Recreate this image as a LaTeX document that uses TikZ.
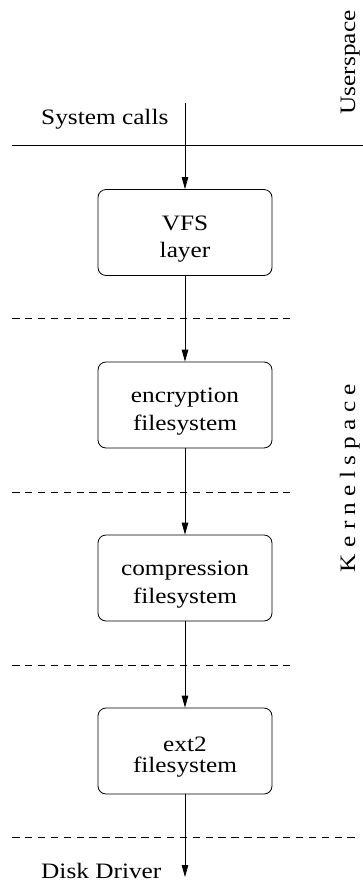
\documentclass[tikz,border=0pt]{standalone}
\usepackage{fontspec}
\setmainfont{Liberation Serif}[FakeStretch=1.15]
\usetikzlibrary{arrows.meta}
\begin{document}
\begin{tikzpicture}[x=1pt,y=-1pt,
  every node/.style={font=\fontsize{22}{27}\selectfont, inner sep=0pt},
  fsbox/.style={draw, line width=0.8pt, rounded corners=8pt, minimum width=174pt, minimum height=86pt, align=center},
  flow/.style={line width=0.8pt, -{Triangle[length=12pt,width=6.5pt]}},
  layer/.style={line width=0.8pt, dash pattern=on 7.5pt off 5.4pt},
  border/.style={line width=0.8pt}]
\useasboundingbox (0,0) rectangle (363,884);
% boxes
\node[fsbox] (vfs) at (185,232.5) {\rule{0pt}{27pt}VFS\\layer};
\node[fsbox] (enc) at (185,405) {\rule{0pt}{27pt}encryption\\[1pt]filesystem};
\node[fsbox] (comp) at (185,578) {\rule{0pt}{27pt}compression\\[1pt]filesystem};
\node[fsbox] (ext) at (185,751) {\rule{0pt}{27pt}ext2\\[-6pt]filesystem};
% labels
\node[anchor=base west] (sys) at (41,124) {System calls};
\node[anchor=base west] (disk) at (41,878) {Disk Driver};
\node[rotate=90, anchor=base] (user) at (355,62.5) {Userspace};
\node[rotate=90, anchor=base] (kern) at (355,478) {K e r n e l s p a c e};
% separators
\coordinate (sl) at (12,145);
\coordinate (sr) at (363,145);
\draw[border] (sl) -- (sr);
\coordinate (d1l) at (12,318); \coordinate (d1r) at (295,318);
\coordinate (d2l) at (12,492); \coordinate (d2r) at (295,492);
\coordinate (d3l) at (12,665); \coordinate (d3r) at (295,665);
\coordinate (d4l) at (12,837); \coordinate (d4r) at (355,837);
\draw[layer] (d1l) -- (d1r);
\draw[layer] (d2l) -- (d2r);
\draw[layer] (d3l) -- (d3r);
\draw[layer] (d4l) -- (d4r);
% flow
\coordinate (top) at (185,103);
\coordinate (bot) at (185,877);
\draw[flow] (top) -- (vfs.north);
\draw[flow] (vfs.south) -- (enc.north);
\draw[flow] (enc.south) -- (comp.north);
\draw[flow] (comp.south) -- (ext.north);
\draw[flow] (ext.south) -- (bot);
\end{tikzpicture}
\end{document}
